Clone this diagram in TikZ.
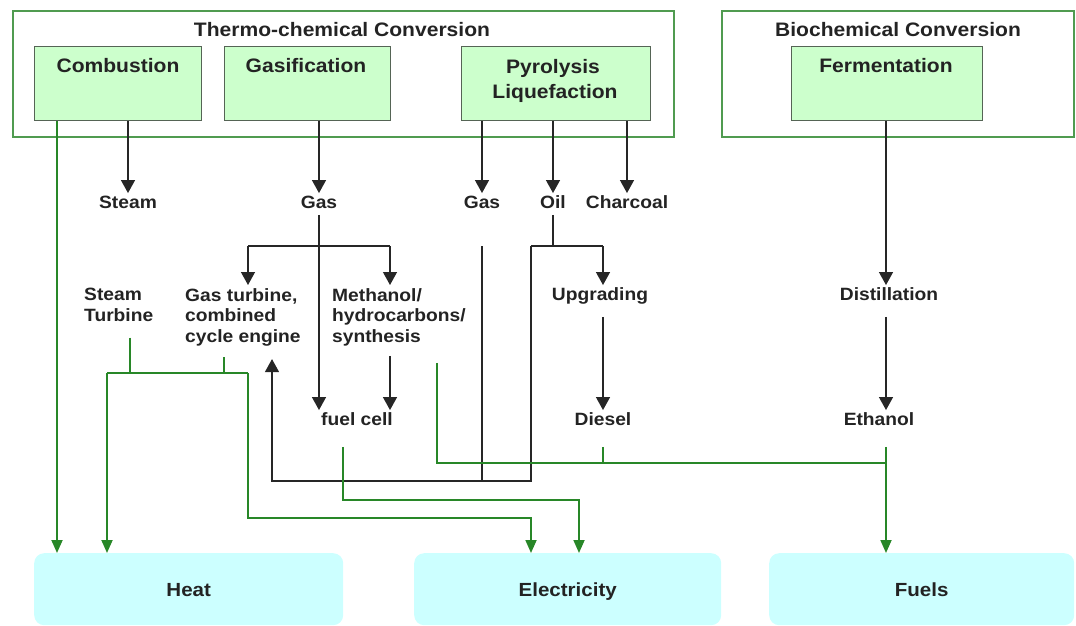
\documentclass[tikz,border=0pt]{standalone}
\usepackage{fontspec}
\setmainfont{Liberation Sans}[FakeStretch=1.08]
\usetikzlibrary{arrows.meta}

\definecolor{boxgreen}{RGB}{204,255,204}
\definecolor{boxcyan}{RGB}{204,255,255}
\definecolor{linegreen}{RGB}{40,135,40}
\definecolor{framegreen}{RGB}{80,155,80}
\definecolor{boxedge}{RGB}{85,100,85}
\definecolor{txt}{RGB}{35,35,35}

\begin{document}
\begin{tikzpicture}[x=1pt,y=-1pt,
  outerbox/.style={draw=framegreen,line width=1.8pt,anchor=north west,inner sep=0pt},
  procbox/.style={draw=boxedge,fill=boxgreen,line width=1.3pt,anchor=north west,inner sep=0pt,minimum height=74pt},
  titletxt/.style={font=\fontsize{19.5}{24}\selectfont\bfseries,text=txt,anchor=base,inner sep=0pt},
  lbl/.style={font=\fontsize{17.8}{20.5}\selectfont\bfseries,text=txt,text height=12pt,text depth=3.5pt,inner sep=3pt},
  mlbl/.style={font=\fontsize{17.8}{20.5}\selectfont\bfseries,text=txt,align=left,anchor=north west,inner sep=3pt},
  endbox/.style={fill=boxcyan,rounded corners=10pt,anchor=north west,minimum height=72pt,
    font=\fontsize{19}{22}\selectfont\bfseries,text=txt,text height=14pt,text depth=0pt},
  ln/.style={draw=black!85,line width=1.3pt},
  blk/.style={ln,-{Triangle[length=13pt,width=14pt]}},
  gln/.style={draw=linegreen,line width=1.8pt},
  grn/.style={gln,-{Triangle[length=13pt,width=11pt]}}]
\useasboundingbox (0,0) rectangle (1076,626);

\node[outerbox,minimum width=661pt,minimum height=126pt] (thermo) at (12,10) {};
\node[outerbox,minimum width=352pt,minimum height=126pt] (bio) at (721,10) {};
\node[titletxt] (thermotitle) at (342,37) {Thermo-chemical Conversion};
\node[titletxt] (biotitle) at (898,37) {Biochemical Conversion};

\node[procbox,minimum width=167pt] (comb) at (34,46) {};
\node[procbox,minimum width=166pt] (gasif) at (224,46) {};
\node[procbox,minimum width=189pt] (pyro) at (461,46) {};
\node[procbox,minimum width=191pt] (ferm) at (791,46) {};
\node[titletxt] (combtxt) at (118,73) {Combustion};
\node[titletxt] (gasiftxt) at (306,73) {Gasification};
\node[titletxt] (pyrotxt) at (553,74) {Pyrolysis};
\node[titletxt] (liqtxt) at (555,98) {Liquefaction};
\node[titletxt] (fermtxt) at (886,73) {Fermentation};

\node[lbl] (steam) at (128,204) {Steam};
\node[lbl] (gas) at (319,204) {Gas};
\node[lbl] (pgas) at (482,204) {Gas};
\node[lbl] (oil) at (553,204) {Oil};
\node[lbl] (char) at (627,204) {Charcoal};

\node[mlbl] (stturb) at (81,285) {Steam\\Turbine};
\node[mlbl] (gt) at (182,285) {Gas turbine,\\combined\\cycle engine};
\node[mlbl] (meth) at (329,285) {Methanol/\\hydrocarbons/\\synthesis};
\node[lbl] (upg) at (600,296) {Upgrading};
\node[lbl] (dist) at (889,296) {Distillation};
\node[lbl] (fuelcell) at (357,421) {fuel cell};
\node[lbl] (diesel) at (603,421) {Diesel};
\node[lbl] (eth) at (879,421) {Ethanol};

\node[endbox,minimum width=309pt] (heat) at (34,553) {Heat};
\node[endbox,minimum width=307pt] (elec) at (414,553) {Electricity};
\node[endbox,minimum width=305pt] (fuels) at (769,553) {Fuels};

\coordinate (gfl) at (248,246);
\coordinate (gfr) at (390,246);
\coordinate (ofl) at (531,246);
\coordinate (ofr) at (603,246);
\coordinate (ret) at (272,481);
\coordinate (sj) at (130,373);
\coordinate (gj) at (224,373);
\coordinate (hl) at (107,373);
\coordinate (hr) at (248,373);
\coordinate (e1) at (531,518);
\coordinate (fcj) at (343,500);
\coordinate (e2) at (579,500);
\coordinate (mj) at (437,463);
\coordinate (fj) at (886,463);
\coordinate (h1) at (57,553);

\draw[blk] (comb.south -| steam) -- (steam);
\draw[blk] (gasif.south -| gas) -- (gas);
\draw[blk] (pyro.south -| pgas) -- (pgas);
\draw[blk] (pyro.south -| oil) -- (oil);
\draw[blk] (pyro.south -| char) -- (char);
\draw[blk] (ferm.south -| fj) -- (fj |- dist.north);
\draw[blk] (gas) -- (gas |- fuelcell.north);
\draw[ln] (gfl) -- (gfr);
\draw[blk] (gfl) -- (gfl |- gt.north);
\draw[blk] (gfr) -- (gfr |- meth.north);
\draw[blk,shorten <=7pt] (meth.south -| gfr) -- (gfr |- fuelcell.north);
\draw[ln] (oil) -- (oil |- ofl);
\draw[ln] (ofl) -- (ofr);
\draw[blk] (ofr) -- (ofr |- upg.north);
\draw[blk,shorten <=10pt] (ofr |- upg.south) -- (ofr |- diesel.north);
\draw[blk,shorten <=10pt] (fj |- dist.south) -- (fj |- eth.north);
\draw[ln] (pgas |- ofl) -- (pgas |- ret);
\draw[blk,shorten >=10pt] (ofl) -- (ofl |- ret) -- (ret) -- (ret |- gt.south);

\draw[grn] (comb.south -| h1) -- (h1);
\draw[gln,shorten <=13pt] (stturb.south -| sj) -- (sj);
\draw[gln,shorten <=8pt] (gt.south -| gj) -- (gj);
\draw[gln] (hl) -- (hr);
\draw[grn] (hl) -- (hl |- heat.north);
\draw[grn] (hr) |- (e1) -- (e1 |- elec.north);
\draw[grn,shorten <=15pt] (fuelcell.south -| fcj) -- (fcj) -- (e2) -- (e2 |- elec.north);
\draw[gln,shorten <=14pt] (meth.south -| mj) -- (mj) -- (fj);
\draw[gln,shorten <=15pt] (diesel.south -| ofr) -- (ofr |- mj);
\draw[grn,shorten <=15pt] (eth.south -| fj) -- (fj |- fuels.north);
\end{tikzpicture}
\end{document}
